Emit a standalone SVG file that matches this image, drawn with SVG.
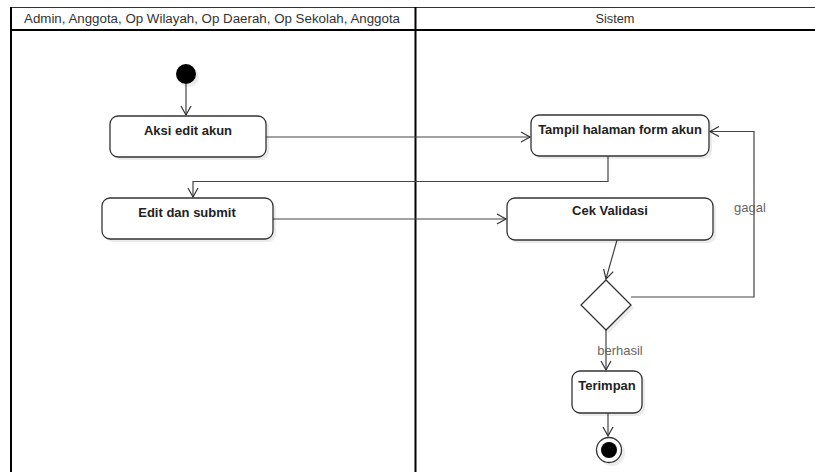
<svg xmlns="http://www.w3.org/2000/svg" width="815" height="472" viewBox="0 0 815 472">
<style>
.hdr{font-family:"Liberation Sans",Arial,sans-serif;font-size:12.5px;fill:#333;text-anchor:middle}
.node rect,.node polygon{fill:#fff;stroke:#333;stroke-width:1.3}
.shadow{fill:#000;opacity:0.08}
.lbl{font-family:"Liberation Sans",Arial,sans-serif;font-size:13px;font-weight:bold;fill:#222;text-anchor:middle}
.edge{fill:none;stroke:#444;stroke-width:1.2}
.elbl{font-family:"Liberation Sans",Arial,sans-serif;font-size:13px;fill:#666;text-anchor:middle}
</style>
<defs>
<marker id="arr" markerWidth="12" markerHeight="12" refX="10" refY="6" orient="auto" markerUnits="userSpaceOnUse">
<path d="M1,1 L10,6 L1,11" fill="none" stroke="#333" stroke-width="1.2"/>
</marker>
</defs>
<rect width="815" height="472" fill="#fff"/>
<g id="lanes">
<line x1="11" y1="7.5" x2="815" y2="7.5" stroke="#333" stroke-width="1"/>
<line x1="11" y1="30" x2="815" y2="30" stroke="#000" stroke-width="2"/>
<line x1="11" y1="7" x2="11" y2="472" stroke="#000" stroke-width="2"/>
<line x1="415.5" y1="7" x2="415.5" y2="472" stroke="#000" stroke-width="2"/>
<text class="hdr" x="212" y="23" textLength="376" lengthAdjust="spacingAndGlyphs">Admin, Anggota, Op Wilayah, Op Daerah, Op Sekolah, Anggota</text>
<text class="hdr" x="615" y="23" textLength="39" lengthAdjust="spacingAndGlyphs">Sistem</text>
</g>
<g id="connectors">
<path class="edge" d="M186,84 V115" marker-end="url(#arr)"/>
<path class="edge" d="M266,137 H530" marker-end="url(#arr)"/>
<path class="edge" d="M608,156 V181.5 H193 V197" marker-end="url(#arr)"/>
<path class="edge" d="M273,219 H506" marker-end="url(#arr)"/>
<path class="edge" d="M617,240 L606,279" marker-end="url(#arr)"/>
<path class="edge" d="M631,297 H754 V131.5 H710" marker-end="url(#arr)"/>
<path class="edge" d="M606,330 V370" marker-end="url(#arr)"/>
<path class="edge" d="M608,413 V436" marker-end="url(#arr)"/>
<text class="elbl" x="750" y="212">gagal</text>
<text class="elbl" x="620" y="355">berhasil</text>
</g>
<g id="start" class="node">
<circle cx="189" cy="77" r="10" class="shadow"/>
<circle cx="186" cy="74" r="10" fill="#000"/>
</g>
<g id="aksi-edit-akun" class="node">
<rect x="113" y="119" width="156" height="41" rx="8" class="shadow" style="stroke:none;fill:#000"/>
<rect x="110" y="116" width="156" height="41" rx="8"/>
<text class="lbl" x="188" y="135">Aksi edit akun</text>
</g>
<g id="tampil-halaman" class="node">
<rect x="534" y="118" width="178" height="41" rx="8" class="shadow" style="stroke:none;fill:#000"/>
<rect x="531" y="115" width="178" height="41" rx="8"/>
<text class="lbl" x="620" y="134">Tampil halaman form akun</text>
</g>
<g id="edit-submit" class="node">
<rect x="105" y="201" width="171" height="41" rx="8" class="shadow" style="stroke:none;fill:#000"/>
<rect x="102" y="198" width="171" height="41" rx="8"/>
<text class="lbl" x="187" y="217">Edit dan submit</text>
</g>
<g id="cek-validasi" class="node">
<rect x="510" y="201" width="206" height="42" rx="8" class="shadow" style="stroke:none;fill:#000"/>
<rect x="507" y="198" width="206" height="42" rx="8"/>
<text class="lbl" x="610" y="215">Cek Validasi</text>
</g>
<g id="decision" class="node">
<polygon points="609,283 634,308 609,333 584,308" class="shadow" style="stroke:none;fill:#000"/>
<polygon points="606,280 631,305 606,330 581,305"/>
</g>
<g id="terimpan" class="node">
<rect x="575" y="374" width="70" height="42" rx="8" class="shadow" style="stroke:none;fill:#000"/>
<rect x="572" y="371" width="70" height="42" rx="8"/>
<text class="lbl" x="607" y="390">Terimpan</text>
</g>
<g id="end" class="node">
<circle cx="612" cy="453" r="13" class="shadow"/>
<circle cx="609" cy="450" r="12.5" fill="#fff" stroke="#333" stroke-width="1.3"/>
<circle cx="609" cy="450" r="8" fill="#000"/>
</g>
</svg>
